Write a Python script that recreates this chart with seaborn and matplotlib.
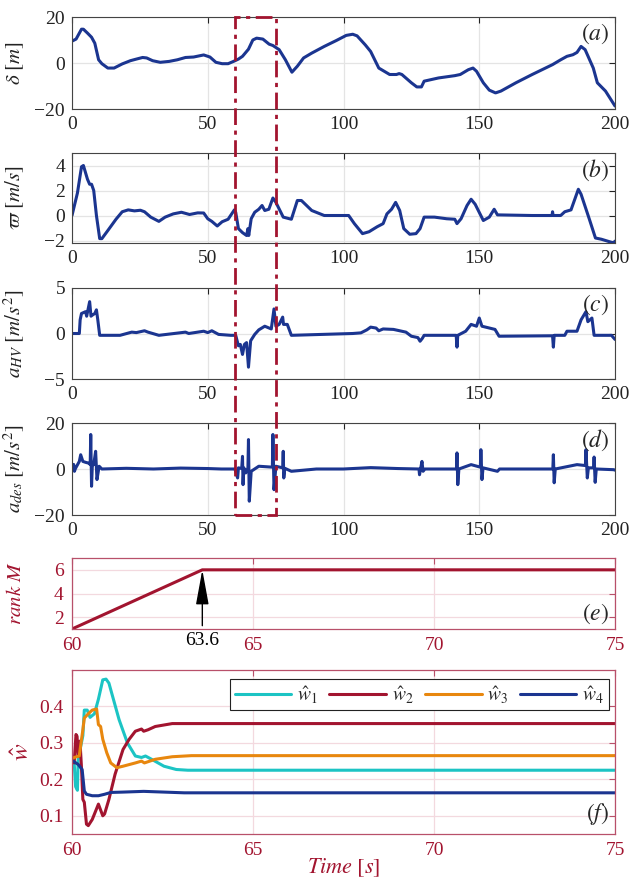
import numpy as np
import pandas as pd
import matplotlib
matplotlib.use("Agg")
import matplotlib.pyplot as plt
from matplotlib.patches import Rectangle
import seaborn as sns

# ---------------- data ----------------
t_delta = [0, 1.5, 3.5, 4.2, 5.7, 7.2, 8.4, 9.8, 11, 13.2, 15.5, 18.5, 21.5, 23.7, 26, 27.5, 29.7,
           32.5, 35.8, 38.8, 41.8, 44.8, 48.5, 50.8, 53, 55.3, 57.5, 59.5, 61.3, 62.8, 65, 66.6, 68,
           70.3, 72.6, 74, 76.3, 78.6, 81, 83, 85.3, 88.3, 92.9, 97.4, 101, 103.4, 105, 108, 110,
           113, 117, 119.5, 120.5, 121.5, 125, 127, 128.7, 129.7, 135, 141, 143, 146, 147.7, 149,
           151.5, 153.7, 156, 158, 163.5, 169.5, 177, 180, 182.3, 184.5, 186, 187.5, 189, 192,
           193.5, 196.5, 200]
delta = [9.5, 10.4, 14.7, 14.7, 13, 11.2, 8.6, 1.4, -0.3, -2.2, -2.2, -0.4, 1.0, 1.7, 2.4, 2.2, 1.0,
         0.3, 0.7, 1.4, 2.4, 2.6, 3.5, 2.6, 0.3, -0.3, -0.3, 0.7, 1.7, 2.9, 6, 10, 10.8,
         10.4, 8.2, 7.6, 5.8, 1.4, -4, -1.4, 2.2, 4.3, 7.2, 9.8, 12, 12.5, 11.8, 7.9, 5,
         -2.2, -5, -5, -4.6, -5, -8.6, -10.4, -10.4, -7.9, -6.5, -5.5, -5, -2.9, -2.2, -3.6,
         -8.6, -11.8, -13, -12.2, -8.6, -5, -0.7, 1.4, 2.9, 3.6, 4.6, 7.2, 5.8, -2.2,
         -8.6, -12.2, -18.7]

t_varpi = [0, 2, 3.5, 4.2, 5.7, 6.5, 7.2, 8, 9, 10.2, 11, 13.2, 16.2, 18.5, 20.7, 23, 25.2, 26.7,
           29, 32, 34.3, 37.3, 40.3, 43.3, 46.3, 48.5, 50, 51.5, 53.5, 55.3, 57.5, 59.8, 60.3,
           61.3, 62.8, 64.3, 64.8, 65.1, 66, 67.3, 68.8, 70, 71, 72.5, 74, 75.1, 77.8, 80.8, 83,
           84.5, 88.3, 92.9, 101.9, 104, 107, 109.4, 112.4, 114.6, 116, 117.7, 119.2, 120.7,
           122.2, 124.4, 126.7, 128.2, 129.7, 133.5, 138, 141, 141.8, 143.3, 145.5, 147, 148.5,
           151.5, 153.7, 155.5, 156.7, 169.5, 176.8, 177.0, 177.2, 180, 181.5, 183.8, 186.5,
           187.5, 190.5, 192.8, 195, 199.5, 200]
varpi = [0, 1.8, 3.9, 4.0, 2.9, 2.5, 2.5, 2.0, 0, -1.85, -1.85, -1.2, -0.3, 0.3, 0.45, 0.37, 0.42, 0.3,
         -0.13, -0.47, -0.13, 0.13, 0.26, 0.08, 0.21, 0.2, -0.26, -0.47, -0.84, -0.5, -0.3, 0.45, 0.25,
         -1.05, -1.37, -1.6, -1.05, -1.6, -0.26, 0.26, 0.5, 0.8, 0.4, 0.5, 1.4, 1.05, -0.13, -0.3, 1.2,
         1.2, 0.4, 0, 0, -0.65, -1.45, -1.3, -0.9, -0.65, 0.13, 0.5, 1.05, 0.4,
         -1.05, -1.5, -1.45, -1.05, -0.13, -0.13, -0.26, -0.3, -0.65, -0.26, 0.8, 1.3, 0.9,
         -0.4, -0.13, 0.5, 0.05, 0, 0, 0.3, 0, 0, 0.3, 0.45, 2.1,
         1.7, -0.26, -1.8, -1.9, -2.2, -2.05]

t_ahv = [0, 2.7, 3.0, 3.5, 5, 5.4, 6.5, 7.0, 7.4, 8.4, 9, 9.5, 10.2, 17.7, 22, 23.7, 26.7, 28, 32, 41.8,
         43, 48.5, 50, 51.5, 54, 58.5, 60.3, 61.3, 62, 62.8, 63.5, 64.3, 65, 65.8, 67.3, 68.8, 71,
         73.4, 74.4, 75.1, 76.3, 77.6, 77.9, 79.3, 80.8, 103.4, 106.4, 108.6, 110, 112, 113, 114.6,
         118.4, 123, 125, 127.4, 128.2, 129, 129.7, 141.5, 141.8, 142.1, 145, 147, 149, 150, 151,
         155.8, 157.3, 177, 177.3, 177.6, 181.5, 182.3, 186, 187.5, 189.3, 190, 191.5, 192.3,
         198.7, 200]
a_hv = [0, 0, 1.5, 2.2, 2.4, 1.9, 3.5, 1.9, 2.0, 2.2, 2.6, 1.5, -0.2, -0.2, 0.15, 0.1, 0.3, 0.15, -0.2, 0.15,
        0, 0.25, 0.1, 0.3, -0.1, -0.2, -0.2, -1.35, -1.2, -2.3, -1.2, -1.0, -3.7, -0.8, -0.1, 0.4, 0.8,
        0.5, 2.7, 0.8, 1.0, 1.8, 1.0, 1.0, -0.2, 0, 0.07, 0.4, 0.7, 0.6, 0.3, 0.5,
        0.45, 0.15, -0.3, -0.45, -0.85, -0.55, -0.2, -0.2, -1.5, -0.2, 0.25, 1.0, 0.8, 1.7, 0.8,
        0.45, -0.3, -0.25, -1.5, -0.2, -0.2, 0.25, 0.25, 1.5, 2.4, 1.3, 1.7, -0.2,
        -0.2, -0.65]

t_ades = [0, 0.6, 0.9, 1.3, 2.7, 3.2, 4, 5, 6, 6.7, 6.9, 7.2, 7.5, 8.0, 8.7, 9.2, 10, 11, 20, 30, 40, 50,
          55, 60, 61, 61.3, 62.5, 62.8, 63, 63.3, 64, 64.8, 65, 65.3, 66, 68.8, 73.8, 74, 74.4, 75.1,
          77.6, 77.8, 78, 78.4, 80.8, 90, 100, 110, 120, 127.8, 128, 128.9, 129.3, 130, 141.6, 141.8,
          142.1, 142.5, 147, 150.4, 150.6, 151, 151.4, 156.7, 157.5, 177.1, 177.3, 177.6, 178, 186,
          189.1, 189.3, 189.8, 190.2, 192.1, 192.3, 192.7, 193.1, 199.5, 200]
a_des = [0, 2.0, -1.0, 0.3, 3.3, 6.2, 3.3, 2.9, 2.6, 2.0, 15, -7.5, 2.0, 1.9, 7.7, -4.6, 1.2, 0, 0.3, 0, 0.4, 0.2,
         0, 0, -3.9, 0.5, 0.2, 5.5, -6.8, 0.5, -1.7, 0.5, 12.8, -14, -1, 1.2, 0.8, 15, -9, 1.2,
         0.5, 7.7, -3.9, 0.3, -1, 0, 0, 0.6, 0.2, 0, -2.5, 3.3, -1.0, 0, 0, 7,
         -6.8, 0, 1.9, 0.8, 8.4, -4.6, 0.5, -1, 0, 0, 6.2, -6, 0, 1.9,
         1.5, 8.4, -3.9, 0.5, 0.5, 5.2, -5.8, 0, -0.3, -0.5]

t_rank = [60, 63.6, 75]
rank_m = [1, 6, 6]

t_w1 = [60, 60.06, 60.1, 60.15, 60.17, 60.2, 60.3, 60.34, 60.42, 60.5, 60.62, 60.73, 60.85, 60.94,
        61.02, 61.3, 61.53, 61.75, 61.92, 62.03, 62.2, 62.54, 62.88, 63.2, 75]
w1 = [0.25, 0.245, 0.18, 0.17, 0.255, 0.27, 0.32, 0.39, 0.39, 0.37, 0.38, 0.42, 0.473, 0.475,
      0.464, 0.364, 0.30, 0.264, 0.26, 0.264, 0.255, 0.236, 0.227, 0.225, 0.225]

t_w2 = [60, 60.06, 60.11, 60.14, 60.17, 60.19, 60.22, 60.26, 60.3, 60.34, 60.4, 60.45, 60.56, 60.73,
        60.85, 60.9, 61.02, 61.19, 61.41, 61.58, 61.75, 61.92, 61.98, 62.1, 62.3, 62.77, 63.2, 75]
w2 = [0.25, 0.245, 0.323, 0.318, 0.264, 0.264, 0.305, 0.236, 0.145, 0.137, 0.077, 0.073, 0.09, 0.132,
      0.1, 0.105, 0.145, 0.214, 0.282, 0.31, 0.332, 0.338, 0.332, 0.336, 0.345, 0.353, 0.353, 0.353]

t_w3 = [60, 60.06, 60.2, 60.3, 60.34, 60.45, 60.56, 60.68, 60.73, 60.79, 60.85, 60.96, 61.07, 61.24,
        61.41, 61.75, 61.92, 62.0, 62.3, 62.77, 63.3, 75]
w3 = [0.255, 0.26, 0.264, 0.336, 0.368, 0.38, 0.39, 0.393, 0.35, 0.345, 0.31, 0.273, 0.245, 0.232,
      0.236, 0.245, 0.25, 0.245, 0.255, 0.262, 0.265, 0.265]

t_w4 = [60, 60.17, 60.28, 60.34, 60.4, 60.56, 60.73, 60.9, 61.07, 61.41, 61.98, 62.54, 63.1, 75]
w4 = [0.252, 0.241, 0.227, 0.168, 0.159, 0.155, 0.155, 0.159, 0.164, 0.165, 0.167, 0.165, 0.163, 0.163]

w_labels = [r'$\hat{w}_1$', r'$\hat{w}_2$', r'$\hat{w}_3$', r'$\hat{w}_4$']

# ---------------- style ----------------
sns.set_style("white")
plt.rcParams['font.family'] = ['Liberation Serif', 'DejaVu Serif']
plt.rcParams['mathtext.fontset'] = 'stix'

BLUE = '#1b3590'
RED = '#A2142F'
REDSP = '#b8506a'
PINKGRID = '#f3d9df'
GRAY = '#e4e4e4'
COLS = ['#1cc4c4', '#A2142F', '#e8870e', '#1b3590']

fig = plt.figure(figsize=(6.42, 8.85), dpi=100)
L, W = 72 / 642, 543 / 642

def pos(top, bot):
    return [L, 1 - bot / 885, W, (bot - top) / 885]

axes_top = [fig.add_axes(pos(17, 109)), fig.add_axes(pos(153, 243)),
            fig.add_axes(pos(288, 379)), fig.add_axes(pos(423, 515))]
ax_e = fig.add_axes(pos(558, 629))
ax_f = fig.add_axes(pos(670, 834))

top_data = [(t_delta, delta), (t_varpi, varpi), (t_ahv, a_hv), (t_ades, a_des)]
ylims = [(-20, 20), (-2.2, 5), (-5, 5), (-20, 20)]
yticks = [[-20, 0, 20], [-2, 0, 2, 4], [-5, 0, 5], [-20, 0, 20]]
ylabels = [r'$\delta\ [m]$', r'$\varpi\ [m/s]$', r'$a_{HV}\ [m/s^2]$', r'$a_{des}\ [m/s^2]$']
letters = ['$(a)$', '$(b)$', '$(c)$', '$(d)$']

for ax, (tx, vy), yl, yt, lab, let in zip(axes_top, top_data, ylims, yticks, ylabels, letters):
    sns.lineplot(x=tx, y=vy, ax=ax, color=BLUE, lw=2.2, estimator=None, sort=False)
    ax.set_xlim(0, 200)
    ax.set_ylim(*yl)
    ax.set_xticks([0, 50, 100, 150, 200])
    ax.set_yticks(yt)
    ax.grid(True, color=GRAY, lw=0.9)
    ax.set_axisbelow(True)
    for s in ax.spines.values():
        s.set_color('#444444')
        s.set_linewidth(0.8)
    ax.tick_params(direction='in', top=True, right=True, labelsize=14, colors='#222222',
                   length=4, width=0.8, pad=5)
    ax.set_ylabel(lab, fontsize=15, color='#222222')
    ax.yaxis.set_label_coords(-0.085, 0.5)
    ax.text(0.99, 0.95, let, transform=ax.transAxes, ha='right', va='top', fontsize=17)

# ---- panel (e)
sns.lineplot(x=t_rank, y=rank_m, ax=ax_e, color=RED, lw=2.2, estimator=None, sort=False)
ax_e.set_xlim(60, 75)
ax_e.set_ylim(1, 7)
ax_e.set_yticks([2, 4, 6])
ax_e.set_xticks([60, 65, 70, 75])
ax_e.set_ylabel(r'$rank\ M$', fontsize=15, color=RED)
ax_e.yaxis.set_label_coords(-0.085, 0.5)
ax_e.text(0.99, 0.22, '$(e)$', transform=ax_e.transAxes, ha='right', va='center', fontsize=17)
ax_e.annotate('63.6', xy=(t_rank[1], rank_m[1]), xytext=(t_rank[1], 0.05), textcoords='data',
              ha='center', va='center', fontsize=14, color='black', annotation_clip=False,
              arrowprops=dict(arrowstyle='-|>,head_length=1.2,head_width=0.22', color='black',
                              lw=1.0, mutation_scale=18, shrinkA=2, shrinkB=0))

# ---- panel (f)
w_series = [(t_w1, w1), (t_w2, w2), (t_w3, w3), (t_w4, w4)]
for (tx, vy), c, lab in zip(w_series, COLS, w_labels):
    sns.lineplot(x=tx, y=vy, ax=ax_f, color=c, lw=2.2, label=lab, estimator=None, sort=False)
ax_f.set_xlim(60, 75)
ax_f.set_ylim(0.05, 0.5)
ax_f.set_yticks([0.1, 0.2, 0.3, 0.4])
ax_f.set_xticks([60, 65, 70, 75])
ax_f.set_ylabel(r'$\hat{w}$', fontsize=18, color=RED)
ax_f.yaxis.set_label_coords(-0.07, 0.5)
ax_f.set_xlabel(r'$Time\ [s]$', fontsize=16, color=RED, labelpad=-2)
ax_f.text(0.99, 0.12, '$(f)$', transform=ax_f.transAxes, ha='right', va='center', fontsize=17)
leg = ax_f.legend(loc='upper right', bbox_to_anchor=(0.989, 0.945), ncol=4, fontsize=14,
                  frameon=True, fancybox=False, framealpha=1, edgecolor='#222222',
                  handlelength=2.9, handletextpad=0.3, columnspacing=0.6, borderaxespad=0,
                  borderpad=0.25)
leg.get_frame().set_linewidth(0.8)

for ax in (ax_e, ax_f):
    ax.grid(True, color=PINKGRID, lw=0.9)
    ax.set_axisbelow(True)
    for s in ax.spines.values():
        s.set_color(REDSP)
        s.set_linewidth(0.9)
    ax.tick_params(direction='in', top=True, right=True, labelsize=14, colors=RED,
                   length=4, width=0.8, pad=6)
    ax.tick_params(axis='both', color=REDSP)

# ---- dash-dot rectangle spanning panels (a)-(d), x = 60..75
ax_a, ax_d = axes_top[0], axes_top[3]
inv = fig.transFigure.inverted()
x0, y1 = inv.transform(ax_a.transData.transform((60, ax_a.get_ylim()[1])))
x1, _ = inv.transform(ax_a.transData.transform((75, 0)))
_, y0 = inv.transform(ax_d.transData.transform((60, ax_d.get_ylim()[0])))
rect = Rectangle((x0, y0), x1 - x0, y1 - y0, transform=fig.transFigure, fill=False,
                 edgecolor=RED, lw=2.0, linestyle=(0, (6, 2, 1.5, 2)), zorder=20)
fig.add_artist(rect)

fig.savefig('out.png', dpi=100)
